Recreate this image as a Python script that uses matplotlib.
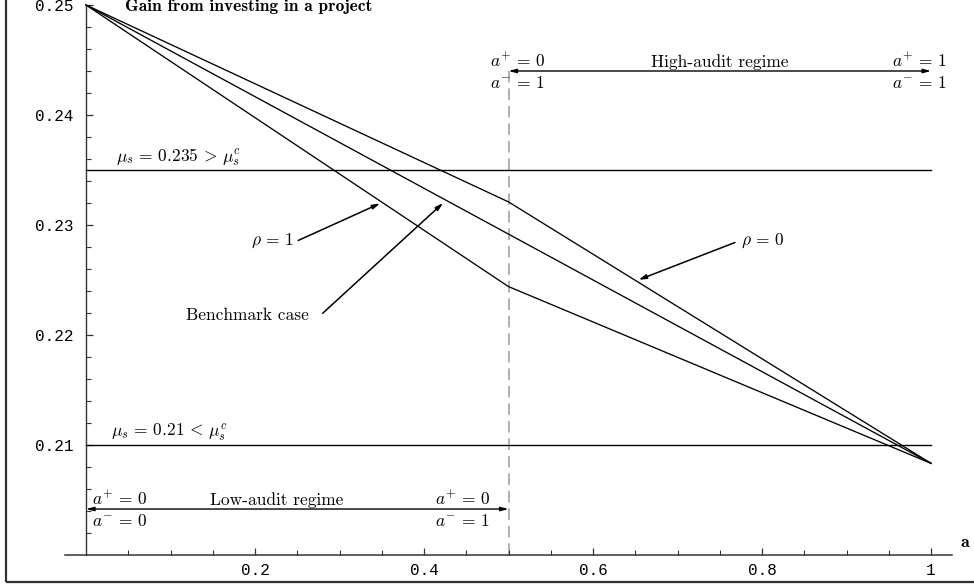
import numpy as np
import matplotlib
matplotlib.use('Agg')
import matplotlib.pyplot as plt
from matplotlib.patches import Rectangle

# gain from investing in a project vs audit intensity a
a_vals = [0.0, 0.5, 1.0]
gain_rho0 = [0.25, 0.2321, 0.20833]
gain_bench = [0.25, 0.22917, 0.20833]
gain_rho1 = [0.25, 0.2244, 0.20833]

mu_high = 0.235
mu_low = 0.21
a_split = 0.5

ytick_vals = [0.21, 0.22, 0.23, 0.24, 0.25]
ytick_labels = ['0.21', '0.22', '0.23', '0.24', '0.25']
xtick_vals = [0.2, 0.4, 0.6, 0.8, 1.0]
xtick_labels = ['0.2', '0.4', '0.6', '0.8', '1']

plt.rcParams['mathtext.fontset'] = 'cm'
MONO = 'Liberation Mono'
RM = 'cmr10'
BF = 'cmb10'
FS = 12.5

W, H = 974, 585
fig = plt.figure(figsize=(W / 100, H / 100), dpi=100)
# data x 0..1 -> px 86..931, y 0.2..0.25 -> px 555..5 (from top)
ax = fig.add_axes([64.9 / W, 30 / H, 887.25 / W, 550 / H])
ax.set_xlim(-0.025, 1.025)
ax.set_ylim(0.2, 0.25)

for s in ['top', 'right']:
    ax.spines[s].set_visible(False)
ax.spines['left'].set_position(('data', 0))
ax.spines['left'].set_color('#333333')
ax.spines['bottom'].set_color('#333333')
ax.spines['left'].set_linewidth(1.0)
ax.spines['bottom'].set_linewidth(1.1)
ax.patch.set_visible(False)

ax.set_xticks(xtick_vals)
ax.set_xticklabels(xtick_labels, fontfamily=MONO, fontsize=11.5)
ax.set_xticks(np.arange(0.05, 1.001, 0.05), minor=True)
ax.set_yticks(ytick_vals)
ax.set_yticklabels(ytick_labels, fontfamily=MONO, fontsize=11.5)
ax.set_yticks(np.arange(0.202, 0.2499, 0.002), minor=True)
ax.tick_params(which='major', direction='in', length=5, width=0.9, color='#333333')
ax.tick_params(which='minor', direction='in', length=3.5, width=0.8, color='#333333')
ax.tick_params(axis='x', which='major', pad=6)
ax.tick_params(axis='y', which='major', pad=9)

# curves
lw = 0.95
ax.plot(a_vals, gain_rho0, color='black', lw=lw, clip_on=False)
ax.plot(a_vals, gain_bench, color='black', lw=lw, clip_on=False)
ax.plot(a_vals, gain_rho1, color='black', lw=lw, clip_on=False)

# thresholds
ax.plot([0, 1], [mu_high, mu_high], color='black', lw=1.0)
ax.plot([0, 1], [mu_low, mu_low], color='black', lw=1.0)
ax.text(0.035, mu_high + 0.0002, r'$\mu_s\,=\,0.235\,>\,\mu_s^c$', fontsize=FS, va='bottom')
ax.text(0.030, mu_low + 0.0002, r'$\mu_s\,=\,0.21\,<\,\mu_s^c$', fontsize=FS, va='bottom')

# regime separator
y_high_arrow = 0.2440
y_low_arrow = 0.20418
ax.plot([a_split, a_split], [0.2, y_high_arrow], color='#b0b0b0', lw=1.4,
        dashes=(6, 3), zorder=1)

arrow_kw = dict(arrowstyle='<|-|>,head_length=0.45,head_width=0.12',
                color='black', lw=1.0, shrinkA=0, shrinkB=0)
ax.annotate('', xy=(1.0, y_high_arrow), xytext=(a_split, y_high_arrow),
            arrowprops=arrow_kw, annotation_clip=False)
ax.annotate('', xy=(a_split, y_low_arrow), xytext=(0.0, y_low_arrow),
            arrowprops=arrow_kw, annotation_clip=False)

up, dn = 0.0008, 0.0011
ap0 = r'$a^{+}\,=\,0$'
ap1 = r'$a^{+}\,=\,1$'
am0 = r'$a^{-}\,=\,0$'
am1 = r'$a^{-}\,=\,1$'
ax.text(0.478, y_high_arrow + up, ap0, fontsize=FS, va='center')
ax.text(0.478, y_high_arrow - dn, am1, fontsize=FS, va='center')
ax.text(0.750, y_high_arrow + up, 'High-audit regime', fontfamily=RM, fontsize=FS,
        ha='center', va='center')
ax.text(1.019, y_high_arrow + up, ap1, fontsize=FS, va='center', ha='right')
ax.text(1.019, y_high_arrow - dn, am1, fontsize=FS, va='center', ha='right')

ax.text(0.007, y_low_arrow + up, ap0, fontsize=FS, va='center')
ax.text(0.007, y_low_arrow - dn, am0, fontsize=FS, va='center')
ax.text(0.226, y_low_arrow + up, 'Low-audit regime', fontfamily=RM, fontsize=FS,
        ha='center', va='center')
ax.text(0.413, y_low_arrow + up, ap0, fontsize=FS, va='center')
ax.text(0.413, y_low_arrow - dn, am1, fontsize=FS, va='center')

# curve labels with pointers
ptr_kw = dict(arrowstyle='-|>,head_length=0.45,head_width=0.13',
              color='black', lw=1.1, shrinkA=0, shrinkB=0)

def pointer(label, text_xy, tail_xy, head_x, curve, dy, ha, family=None):
    head_y = np.interp(head_x, a_vals, curve) + dy
    ax.annotate('', xy=(head_x, head_y), xytext=tail_xy, arrowprops=ptr_kw)
    kw = dict(fontsize=FS, ha=ha, va='center')
    if family:
        kw['fontfamily'] = family
    ax.text(text_xy[0], text_xy[1], label, **kw)

pointer(r'$\rho\,=\,1$', (0.246, 0.2286), (0.251, 0.22859), 0.348, gain_rho1, -0.00022, 'right')
pointer('Benchmark case', (0.264, 0.2218), (0.280, 0.22197), 0.4225, gain_bench, -0.0004,
        'right', RM)
pointer(r'$\rho\,=\,0$', (0.775, 0.2286), (0.768, 0.22841), 0.654, gain_rho0, 0.00024, 'left')

# axis labels
ax.text(0.046, 0.24948, 'Gain from investing in a project', fontfamily=BF, fontsize=12.5,
        va='baseline', ha='left', clip_on=False)
ax.text(1.040, 0.2011, 'a', fontfamily=BF, fontsize=13, va='center', ha='center')

# outer frame (top and right edges fall outside the image)
fig.add_artist(Rectangle((6 / W, 3 / H), 1.0, 1.0, fill=False, lw=1.6,
                         edgecolor='#333333', transform=fig.transFigure))

fig.savefig('out.png', dpi=100)
